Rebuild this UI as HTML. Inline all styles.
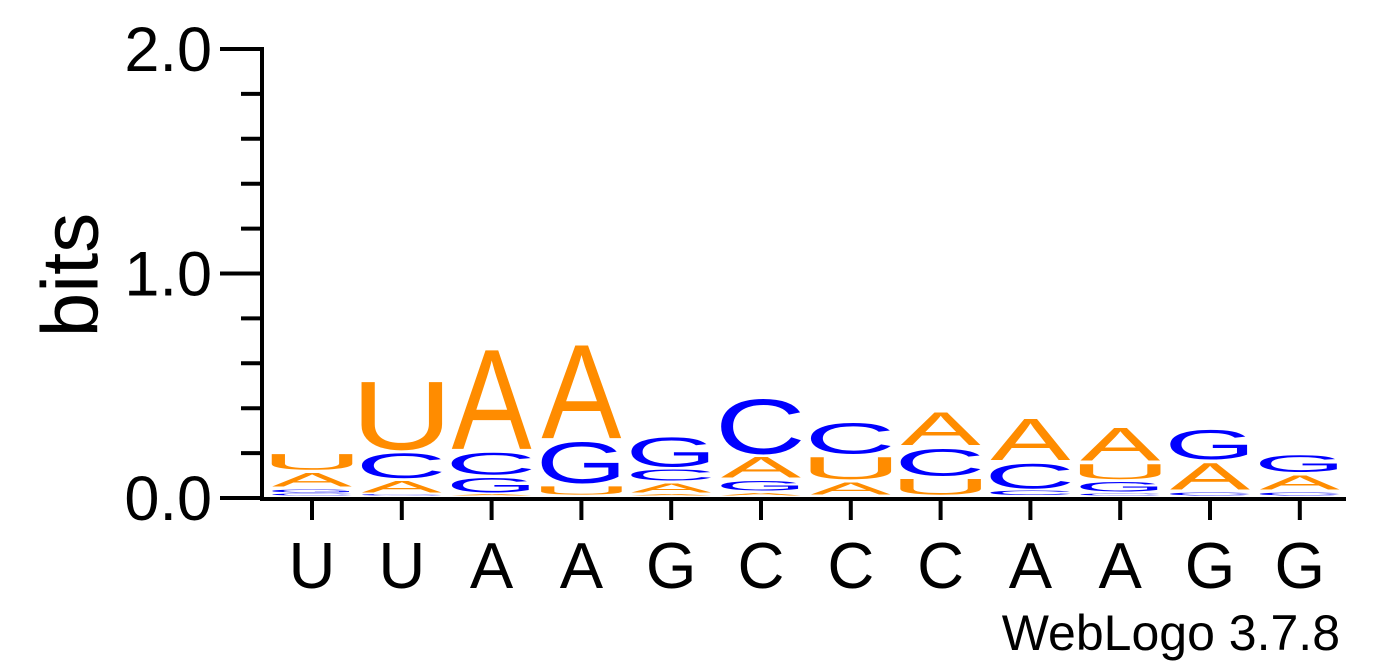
<!DOCTYPE html>
<html><head><meta charset="utf-8"><style>
html,body{margin:0;padding:0;background:#fff}
svg{display:block;font-family:"Liberation Sans",Arial,sans-serif}
</style></head><body>
<svg id="chart" width="1392" height="667" viewBox="0 0 1392 667">
<g id="axes"></g>
<g id="stacks"></g>
<text x="70" y="275" font-size="80" text-anchor="middle" transform="rotate(-90 70 275)" dominant-baseline="central">bits</text>
<text x="1340" y="650" font-size="50" text-anchor="end">WebLogo 3.7.8</text>
</svg>
<script>
const positions = ["U","U","A","A","G","C","C","C","A","A","G","G"];
// stacks bottom-to-top: letters and heights in bits
const stackLetters = [
 ["C","G","A","U"],
 ["C","A","C","U"],
 ["A","G","C","A"],
 ["U","G","A"],
 ["A","A","C","G"],
 ["A","G","A","C"],
 ["A","U","C"],
 ["U","C","A"],
 ["C","C","A"],
 ["C","G","U","A"],
 ["C","A","G"],
 ["C","A","G"]
];
const stackHeights = [
 [0.013,0.022,0.076,0.085],
 [0.009,0.065,0.127,0.325],
 [0.009,0.08,0.114,0.47],
 [0.051,0.2,0.443],
 [0.009,0.053,0.062,0.147],
 [0.018,0.058,0.107,0.263],
 [0.069,0.114,0.151],
 [0.085,0.136,0.163],
 [0.027,0.127,0.203],
 [0.013,0.056,0.082,0.165],
 [0.022,0.136,0.145],
 [0.022,0.078,0.091]
];
const yTicks = ["0.0","1.0","2.0"];
const NS="http://www.w3.org/2000/svg";
const y0=498, pxPerBit=224.5, x0=312, colStep=89.8, colW=80;
const Y=v=>y0-v*pxPerBit;
const X=i=>x0+i*colStep;
const colors={A:"#ff8c00",U:"#ff8c00",C:"#0000ff",G:"#0000ff"};
const lsb={A:0,U:7.9,C:5,G:4.8};
const ink={A:66.7,U:56.4,C:63.5,G:68};
function el(t,a,p){const e=document.createElementNS(NS,t);for(const k in a)e.setAttribute(k,a[k]);p.appendChild(e);return e;}
const axes=document.getElementById('axes');
let ln=el('line',{x1:262,y1:47,x2:262,y2:500,stroke:'#000','stroke-width':4},axes);


ln=el('line',{x1:260,y1:499,x2:1346,y2:499,stroke:'#000','stroke-width':4},axes);


for(let k=0;k<=10;k++){
 const v=k*0.2, major=(k%5===0);
 const t=el('line',{x1:major?220:241,y1:Y(v),x2:262,y2:Y(v),stroke:'#000','stroke-width':4},axes);
 
 
}
yTicks.forEach(s=>{
 const t=el('text',{x:212,y:Y(parseFloat(s))+22,'font-size':63,'text-anchor':'end'},axes);
 t.textContent=s;
 
 
});
positions.forEach((p,i)=>{
 const t=el('line',{x1:X(i),y1:499,x2:X(i),y2:520,stroke:'#000','stroke-width':4},axes);
 
 
 const l=el('text',{x:X(i),y:588,'font-size':65,'text-anchor':'middle'},axes);
 l.textContent=p;
 
 
});
const stacks=document.getElementById('stacks');
stackLetters.forEach((letters,i)=>{
 let acc=0;
 letters.forEach((L,j)=>{
  const h=stackHeights[i][j];
  const b0=Y(acc)-2, t0=Y(acc+h)-2;
  acc+=h;
  const full=b0-t0, pad=Math.min(1.5,full*0.15);
  const bottom=b0-pad, hp=full-2*pad;
  if(hp<=0)return;
  const sx=colW/ink[L], sy=hp/71.6;
  const left=X(i)-colW/2;
  const t=el('text',{x:0,y:0,'font-size':100,fill:colors[L],
   transform:`translate(${left-lsb[L]*sx},${bottom}) scale(${sx},${sy})`},stacks);
  t.textContent=L;
  
  
 });
});
</script>
</body></html>
